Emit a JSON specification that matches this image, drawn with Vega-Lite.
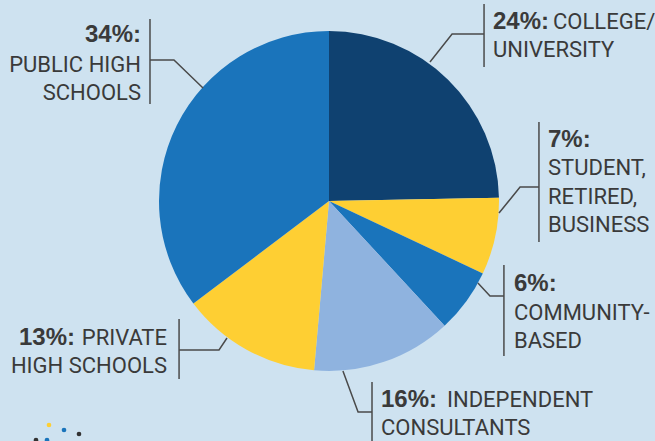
{
  "$schema": "https://vega.github.io/schema/vega-lite/v6.json",
  "width": 655,
  "height": 441,
  "autosize": "none",
  "padding": 0,
  "background": "#cee2f0",
  "config": {"view": {"stroke": null}},
  "datasets": {
    "slices": [
      {"slice": "College/University", "idx": 1, "share": 24.7},
      {"slice": "Student, Retired, Business", "idx": 2, "share": 7.3},
      {"slice": "Community-Based", "idx": 3, "share": 6.1},
      {"slice": "Independent Consultants", "idx": 4, "share": 13.3},
      {"slice": "Private High Schools", "idx": 5, "share": 13.3},
      {"slice": "Public High Schools", "idx": 6, "share": 35.3}
    ],
    "leaders": [
      {"id": 1, "k": 1, "u": -0.741, "v": 0.665}, {"id": 1, "k": 2, "u": -0.912, "v": 0.829}, {"id": 1, "k": 3, "u": -1.053, "v": 0.829},
      {"id": 2, "k": 1, "u": 0.594, "v": 0.818}, {"id": 2, "k": 2, "u": 0.724, "v": 0.982}, {"id": 2, "k": 3, "u": 0.912, "v": 0.982},
      {"id": 3, "k": 1, "u": 1.0, "v": -0.071}, {"id": 3, "k": 2, "u": 1.124, "v": 0.082}, {"id": 3, "k": 3, "u": 1.235, "v": 0.082},
      {"id": 4, "k": 1, "u": 0.876, "v": -0.482}, {"id": 4, "k": 2, "u": 0.947, "v": -0.559}, {"id": 4, "k": 3, "u": 1.029, "v": -0.559},
      {"id": 5, "k": 1, "u": 0.082, "v": -1.0}, {"id": 5, "k": 2, "u": 0.171, "v": -1.241}, {"id": 5, "k": 3, "u": 0.253, "v": -1.241},
      {"id": 6, "k": 1, "u": -0.6, "v": -0.806}, {"id": 6, "k": 2, "u": -0.647, "v": -0.876}, {"id": 6, "k": 3, "u": -0.882, "v": -0.876}
    ],
    "bars": [
      {"u": -1.053, "v1": 1.071, "v2": 0.571},
      {"u": 0.912, "v1": 1.159, "v2": 0.788},
      {"u": 1.235, "v1": 0.465, "v2": -0.241},
      {"u": 1.029, "v1": -0.376, "v2": -0.912},
      {"u": 0.253, "v1": -1.065, "v2": -1.435},
      {"u": -0.882, "v1": -0.694, "v2": -1.047}
    ],
    "textLeft": [
      {"t": "COLLEGE/", "u": 1.3176, "v": 1.0118},
      {"t": "UNIVERSITY", "u": 0.9647, "v": 0.8471},
      {"t": "STUDENT,", "u": 1.2882, "v": 0.1529},
      {"t": "RETIRED,", "u": 1.2882, "v": -0.0176},
      {"t": "BUSINESS", "u": 1.2882, "v": -0.1824},
      {"t": "COMMUNITY-", "u": 1.0882, "v": -0.7},
      {"t": "BASED", "u": 1.0882, "v": -0.8647},
      {"t": "INDEPENDENT", "u": 0.6941, "v": -1.2118},
      {"t": "CONSULTANTS", "u": 0.3059, "v": -1.3765}
    ],
    "boldLeft": [
      {"t": "24%:", "u": 0.9647, "v": 1.0118},
      {"t": "7%:", "u": 1.2882, "v": 0.3176},
      {"t": "6%:", "u": 1.0882, "v": -0.5294},
      {"t": "16%:", "u": 0.3059, "v": -1.2118}
    ],
    "textRight": [
      {"t": "PUBLIC HIGH", "u": -1.1059, "v": 0.7588},
      {"t": "SCHOOLS", "u": -1.1059, "v": 0.5941},
      {"t": "PRIVATE", "u": -0.9529, "v": -0.8471},
      {"t": "HIGH SCHOOLS", "u": -0.9529, "v": -1.0118}
    ],
    "boldRight": [
      {"t": "34%:", "u": -1.1059, "v": 0.9353},
      {"t": "13%:", "u": -1.4941, "v": -0.8471}
    ],
    "dots": [
      {"u": -1.6471, "v": -1.3176, "tone": "yellow"},
      {"u": -1.5588, "v": -1.3471, "tone": "blue"},
      {"u": -1.4706, "v": -1.3706, "tone": "dark"},
      {"u": -1.7235, "v": -1.4059, "tone": "dark"},
      {"u": -1.6588, "v": -1.4059, "tone": "blue"}
    ]
  },
  "resolve": {"scale": {"color": "independent"}},
  "layer": [
    {
      "data": {"name": "slices"},
      "mark": {"type": "arc", "outerRadius": 170},
      "encoding": {
        "x": {"datum": 0, "type": "quantitative", "scale": {"domain": [-1.93529, 1.91765], "nice": false, "zero": false}, "axis": null},
        "y": {"datum": 0, "type": "quantitative", "scale": {"domain": [-1.41176, 1.18235], "nice": false, "zero": false}, "axis": null},
        "theta": {"field": "share", "type": "quantitative", "stack": true},
        "order": {"field": "idx", "type": "quantitative"},
        "color": {
          "field": "slice", "type": "nominal", "legend": null,
          "scale": {
            "domain": ["College/University", "Student, Retired, Business", "Community-Based", "Independent Consultants", "Private High Schools", "Public High Schools"],
            "range": ["#0f4170", "#fecf33", "#1a74bb", "#8fb3df", "#fecf33", "#1a74bb"]
          }
        }
      }
    },
    {
      "data": {"name": "leaders"},
      "mark": {"type": "line", "color": "#4a4a4a", "strokeWidth": 1.5},
      "encoding": {
        "x": {"field": "u", "type": "quantitative", "scale": {"domain": [-1.93529, 1.91765], "nice": false, "zero": false}, "axis": null},
        "y": {"field": "v", "type": "quantitative", "scale": {"domain": [-1.41176, 1.18235], "nice": false, "zero": false}, "axis": null},
        "detail": {"field": "id", "type": "nominal"},
        "order": {"field": "k", "type": "quantitative"}
      }
    },
    {
      "data": {"name": "bars"},
      "mark": {"type": "rule", "color": "#4a4a4a", "strokeWidth": 1.5},
      "encoding": {
        "x": {"field": "u", "type": "quantitative", "scale": {"domain": [-1.93529, 1.91765], "nice": false, "zero": false}, "axis": null},
        "y": {"field": "v1", "type": "quantitative", "scale": {"domain": [-1.41176, 1.18235], "nice": false, "zero": false}, "axis": null},
        "y2": {"field": "v2"}
      }
    },
    {
      "data": {"name": "textLeft"},
      "mark": {"type": "text", "align": "left", "baseline": "alphabetic", "font": "Roboto, sans-serif", "fontSize": 22, "color": "#3a3a3a"},
      "encoding": {
        "x": {"field": "u", "type": "quantitative", "scale": {"domain": [-1.93529, 1.91765], "nice": false, "zero": false}, "axis": null},
        "y": {"field": "v", "type": "quantitative", "scale": {"domain": [-1.41176, 1.18235], "nice": false, "zero": false}, "axis": null},
        "text": {"field": "t"}
      }
    },
    {
      "data": {"name": "boldLeft"},
      "mark": {"type": "text", "align": "left", "baseline": "alphabetic", "font": "Liberation Sans, Arial, sans-serif", "fontWeight": "bold", "fontSize": 24, "color": "#3a3a3a"},
      "encoding": {
        "x": {"field": "u", "type": "quantitative", "scale": {"domain": [-1.93529, 1.91765], "nice": false, "zero": false}, "axis": null},
        "y": {"field": "v", "type": "quantitative", "scale": {"domain": [-1.41176, 1.18235], "nice": false, "zero": false}, "axis": null},
        "text": {"field": "t"}
      }
    },
    {
      "data": {"name": "textRight"},
      "mark": {"type": "text", "align": "right", "baseline": "alphabetic", "font": "Roboto, sans-serif", "fontSize": 22, "color": "#3a3a3a"},
      "encoding": {
        "x": {"field": "u", "type": "quantitative", "scale": {"domain": [-1.93529, 1.91765], "nice": false, "zero": false}, "axis": null},
        "y": {"field": "v", "type": "quantitative", "scale": {"domain": [-1.41176, 1.18235], "nice": false, "zero": false}, "axis": null},
        "text": {"field": "t"}
      }
    },
    {
      "data": {"name": "boldRight"},
      "mark": {"type": "text", "align": "right", "baseline": "alphabetic", "font": "Liberation Sans, Arial, sans-serif", "fontWeight": "bold", "fontSize": 24, "color": "#3a3a3a"},
      "encoding": {
        "x": {"field": "u", "type": "quantitative", "scale": {"domain": [-1.93529, 1.91765], "nice": false, "zero": false}, "axis": null},
        "y": {"field": "v", "type": "quantitative", "scale": {"domain": [-1.41176, 1.18235], "nice": false, "zero": false}, "axis": null},
        "text": {"field": "t"}
      }
    },
    {
      "data": {"name": "dots"},
      "mark": {"type": "circle", "size": 22, "opacity": 1},
      "encoding": {
        "x": {"field": "u", "type": "quantitative", "scale": {"domain": [-1.93529, 1.91765], "nice": false, "zero": false}, "axis": null},
        "y": {"field": "v", "type": "quantitative", "scale": {"domain": [-1.41176, 1.18235], "nice": false, "zero": false}, "axis": null},
        "color": {"field": "tone", "type": "nominal", "legend": null, "scale": {"domain": ["yellow", "blue", "dark"], "range": ["#fecf33", "#1a74bb", "#333333"]}}
      }
    }
  ]
}
